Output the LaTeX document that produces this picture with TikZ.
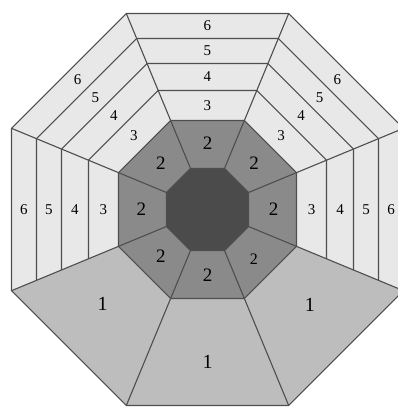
\documentclass[tikz,border=0pt]{standalone}
\usepackage{fontspec}
\setmainfont{Liberation Serif}
\definecolor{bandgray}{HTML}{E8E8E8}
\definecolor{basegray}{HTML}{BDBDBD}
\definecolor{ringgray}{HTML}{8A8A8A}
\definecolor{coregray}{HTML}{4B4B4B}
\definecolor{edgegray}{HTML}{4E4E4E}
\newcommand{\octpath}[1]{(22.5:#1) -- (67.5:#1) -- (112.5:#1) -- (157.5:#1) -- (202.5:#1) -- (247.5:#1) -- (292.5:#1) -- (337.5:#1) -- cycle}
\newcommand{\bandpath}[1]{(-22.5:#1) -- (22.5:#1) -- (67.5:#1) -- (112.5:#1) -- (157.5:#1) -- (202.5:#1)}
\tikzset{
  zone/.style={draw=edgegray, line width=1.1pt, line join=round},
  bandlabel/.style={font=\fontsize{15}{15}\selectfont, inner sep=0pt},
  ringlabel/.style={font=\fontsize{19}{19}\selectfont, inner sep=0pt},
  baselabel/.style={font=\fontsize{20}{20}\selectfont, inner sep=0pt},
}
\begin{document}
\begin{tikzpicture}[x=1pt,y=1pt]
\useasboundingbox (-207.5,-197.5) rectangle (190.5,209.5);

% Fills: outer bands, base region, ring, core
\fill[bandgray] \octpath{212.15};
\fill[basegray] (202.5:96.33) -- (202.5:212.15) -- (247.5:212.15) -- (292.5:212.15)
  -- (337.5:212.15) -- (337.5:96.33) -- (292.5:96.33) -- (247.5:96.33) -- cycle;
\fill[ringgray] \octpath{96.33};
\fill[coregray] \octpath{44.38};

% Band boundaries (3|4, 4|5, 5|6)
\draw[zone] \bandpath{128.80};
\draw[zone] \bandpath{158.03};
\draw[zone] \bandpath{185.09};

% Spokes from core to outer edge
\foreach \a in {22.5,67.5,...,337.5}
  \draw[zone] (\a:44.38) -- (\a:212.15);

% Outlines
\draw[zone] \octpath{212.15};
\draw[zone] \octpath{96.33};
\draw[zone] \octpath{44.38};

% Band labels
\foreach \a/\s in {0/r,45/ur,90/t,135/ul,180/l} {
  \node[bandlabel] (\s3) at (\a:104) {3};
  \node[bandlabel] (\s4) at (\a:132.5) {4};
  \node[bandlabel] (\s5) at (\a:158.5) {5};
  \node[bandlabel] (\s6) at (\a:183.5) {6};
}

% Ring labels
\foreach \a/\s in {0/r,45/ur,90/t,135/ul,180/l,225/ll,270/b}
  \node[ringlabel] (ring\s) at (\a:66) {2};
\node[ringlabel, font=\fontsize{16}{16}\selectfont] (ringlr) at (313:68) {2};

% Base labels
\node[baselabel] (basell) at (222:141) {1};
\node[baselabel] (baseb) at (270:152) {1};
\node[baselabel] (baselr) at (317:140) {1};
\end{tikzpicture}
\end{document}
